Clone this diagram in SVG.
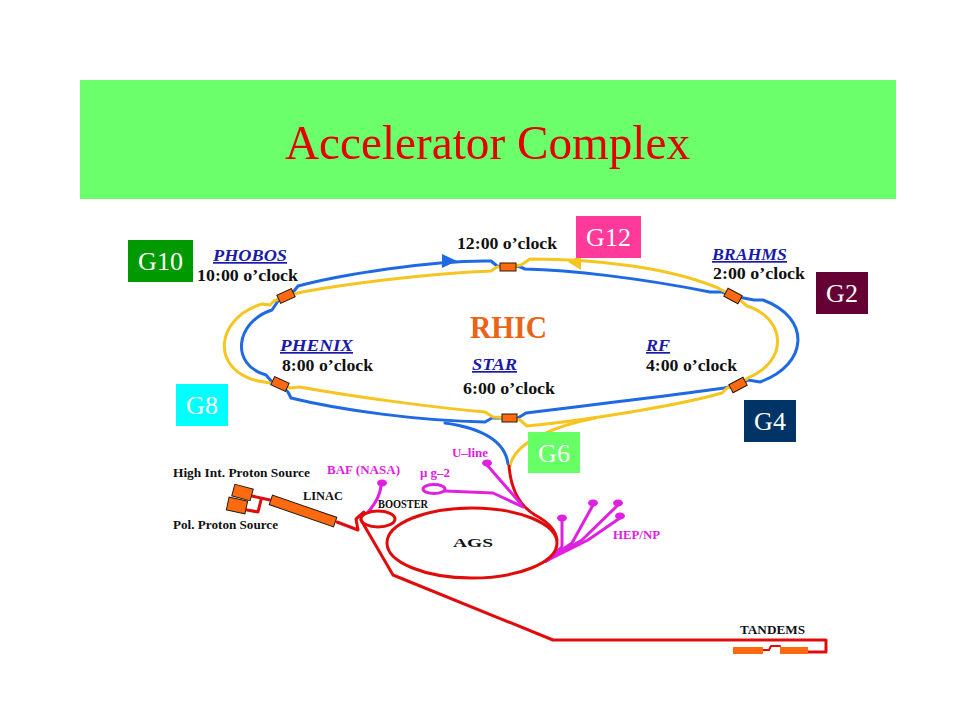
<svg xmlns="http://www.w3.org/2000/svg" width="960" height="720" viewBox="0 0 960 720">
<style>
.bl{fill:none;stroke:#1f6ae2;stroke-width:3;stroke-linejoin:round;stroke-linecap:round}
.ye{fill:none;stroke:#f6c520;stroke-width:3;stroke-linejoin:round;stroke-linecap:round}
.rd{fill:none;stroke:#e00c0c;stroke-width:3;stroke-linejoin:round;stroke-linecap:round}
.mg{fill:none;stroke:#e020e0;stroke-width:3;stroke-linejoin:round;stroke-linecap:round}
.dot{fill:#e020e0}
.box{fill:#ff6a10;stroke:#2a1a10;stroke-width:1}
.clk{font-family:"Liberation Serif",serif;font-weight:bold;font-size:16px;fill:#111}
.exp{font-family:"Liberation Serif",serif;font-weight:bold;font-style:italic;font-size:17px;fill:#1a1aa8;text-decoration:underline}
.lab{font-family:"Liberation Serif",serif;font-weight:bold;font-size:13px;fill:#111}
.mgt{font-family:"Liberation Serif",serif;font-weight:bold;font-size:13px;fill:#e020e0}
.g{font-family:"Liberation Serif",serif;font-size:26px;fill:#fff;text-anchor:middle}
</style>
<rect width="960" height="720" fill="#fff"/>
<g id="title">
<rect x="80" y="80" width="816" height="119" fill="#6bff6b"/>
<text x="285" y="159" font-family="Liberation Serif,serif" font-size="49" fill="#e40000" textLength="405" lengthAdjust="spacingAndGlyphs">Accelerator  Complex</text>
</g>
<g id="connectors">
<g id="blue-ring">
<path class="bl" d="M508 267 L497 266 L491 261 C430 260 340 275 298 286 L294 291 L286 296"/>
<path class="bl" d="M286 296 L278 301 L272 310 C235 322 230 365 266 375 L272 382 L280 384"/>
<path class="bl" d="M280 384 L288 392 L291 398 C340 410 420 421 485 422 L492 418 L509 418"/>
<path class="bl" d="M509 418 L518 418 L526 413 C600 404 690 393 724 388 L738 385"/>
<path class="bl" d="M738 385 L748 380 L760 382 C808 365 812 318 763 300 L754 300 L733 296"/>
<path class="bl" d="M733 296 L722 292 L710 292 C640 278 570 270 525 269 L518 266 L508 267"/>
<polygon points="457,261 442,254 442,268" fill="#1f6ae2"/>
</g>
<g id="yellow-ring">
<path class="ye" d="M508 267 L497 267 L491 271 C420 274 340 285 302 292 L286 296"/>
<path class="ye" d="M286 296 L274 301 L270 305 L262 304 C215 318 210 370 258 381 L270 383 L280 384"/>
<path class="ye" d="M280 384 L290 388 L300 387 C360 398 440 408 485 412 L493 417 L509 418"/>
<path class="ye" d="M509 418 L520 420 L527 426 C590 420 680 405 722 393 L727 388 L738 385"/>
<path class="ye" d="M738 385 L748 378 C790 360 785 318 747 306 L740 300 L733 296"/>
<path class="ye" d="M733 296 L718 288 C670 268 600 259 530 259 L521 265 L508 267"/>
<polygon points="568,262 581,255 581,270" fill="#f6c520"/>
</g>
<path class="bl" d="M445 423 C480 428 505 440 508 464"/>
<path class="ye" d="M595 418 C560 425 515 440 510 466"/>
<path class="rd" d="M509 466 C511 490 520 506 535 515 C548 522 556 530 557 540"/>
<path class="rd" d="M252 496 L270 500"/>
<path class="rd" d="M247 510 L258 512 L261 500"/>
<path class="rd" d="M337 522 L358 530 L356 519 L364 512"/>
<path class="rd" d="M361 520 L393 575 L553 640 L826 640 L826 652 L808 652"/>
<path class="rd" style="stroke-width:2" d="M763 650 L769 650 L771 646 L780 646"/>
<path class="mg" d="M381 486 C380 496 376 503 368 512"/>
<path class="mg" d="M445 491 L493 493 L523 507"/>
<path class="mg" d="M487 465 L521 504"/>
<path class="mg" d="M546 561 L562 547 L562 521"/>
<path class="mg" d="M546 561 L572 543 L593 505"/>
<path class="mg" d="M546 561 L582 540 L618 505"/>
<path class="mg" d="M546 561 L588 540 L620 518"/>
</g>
<g id="crossings">
<rect class="box" x="500" y="263" width="16" height="8"/>
<rect class="box" x="502" y="414" width="15" height="8"/>
<rect class="box" x="-8" y="-4.5" width="16" height="9" transform="translate(286 296) rotate(-25)"/>
<rect class="box" x="-8" y="-4.5" width="16" height="9" transform="translate(280 384) rotate(25)"/>
<rect class="box" x="-8" y="-4.5" width="16" height="9" transform="translate(733 296) rotate(28)"/>
<rect class="box" x="-8" y="-4.5" width="16" height="9" transform="translate(738 385) rotate(-28)"/>
</g>
<g id="ring-labels">
<text class="clk" x="457" y="249" textLength="100" lengthAdjust="spacingAndGlyphs">12:00 o’clock</text>
<text class="exp" x="213" y="261" textLength="74" lengthAdjust="spacingAndGlyphs">PHOBOS</text>
<text class="clk" x="197" y="281" textLength="101" lengthAdjust="spacingAndGlyphs">10:00 o’clock</text>
<text class="exp" x="280" y="351" textLength="73" lengthAdjust="spacingAndGlyphs">PHENIX </text>
<text class="clk" x="282" y="371" textLength="91" lengthAdjust="spacingAndGlyphs">8:00 o’clock</text>
<text class="exp" x="472" y="370" textLength="45" lengthAdjust="spacingAndGlyphs">STAR</text>
<text class="clk" x="463" y="394" textLength="92" lengthAdjust="spacingAndGlyphs">6:00 o’clock</text>
<text class="exp" x="712" y="260" textLength="75" lengthAdjust="spacingAndGlyphs">BRAHMS</text>
<text class="clk" x="713" y="279" textLength="92" lengthAdjust="spacingAndGlyphs">2:00 o’clock</text>
<text class="exp" x="646" y="351" textLength="24" lengthAdjust="spacingAndGlyphs">RF</text>
<text class="clk" x="646" y="371" textLength="91" lengthAdjust="spacingAndGlyphs">4:00 o’clock</text>
<text x="470" y="338" font-family="Liberation Serif,serif" font-weight="bold" font-size="31" fill="#ea6418" textLength="77" lengthAdjust="spacingAndGlyphs">RHIC</text>
</g>
<g id="injector">
<rect class="box" x="-9.5" y="-6" width="19" height="12" transform="translate(242.5 492.5) rotate(15)"/>
<rect class="box" x="-9.5" y="-6.5" width="19" height="13" transform="translate(237 505.5) rotate(12)"/>
<rect class="box" x="-34" y="-5" width="68" height="10" transform="translate(303 511) rotate(19)"/>
<ellipse class="rd" cx="378" cy="519" rx="17" ry="8"/>
<ellipse class="rd" cx="472" cy="543" rx="85" ry="35"/>
<ellipse class="mg" cx="434" cy="489" rx="11" ry="4.5"/>
<ellipse class="dot" cx="382" cy="483" rx="5" ry="3.5"/>
<ellipse class="dot" cx="487" cy="463" rx="5" ry="3.5"/>
<ellipse class="dot" cx="562" cy="518" rx="5" ry="3.5"/>
<ellipse class="dot" cx="593" cy="503" rx="5" ry="3.5"/>
<ellipse class="dot" cx="618" cy="503" rx="5" ry="3.5"/>
<ellipse class="dot" cx="620" cy="516" rx="5" ry="3.5"/>
<rect x="733" y="647" width="30" height="7" fill="#ff6a10"/>
<rect x="780" y="647" width="28" height="7" fill="#ff6a10"/>
<text class="lab" x="173" y="477" textLength="137" lengthAdjust="spacingAndGlyphs">High Int. Proton  Source</text>
<text class="lab" x="173" y="529" textLength="105" lengthAdjust="spacingAndGlyphs">Pol. Proton Source</text>
<text class="lab" x="303" y="500" textLength="40" lengthAdjust="spacingAndGlyphs">LINAC</text>
<text class="lab" x="378" y="508" font-size="11" textLength="50" lengthAdjust="spacingAndGlyphs">BOOSTER</text>
<text class="lab" x="453" y="547" font-size="21" textLength="40" lengthAdjust="spacingAndGlyphs">AGS</text>
<text class="lab" x="740" y="634" font-size="12" textLength="65" lengthAdjust="spacingAndGlyphs">TANDEMS</text>
<text class="mgt" x="327" y="474" textLength="73" lengthAdjust="spacingAndGlyphs">BAF (NASA)</text>
<text class="mgt" x="420" y="477" font-weight="normal" textLength="30" lengthAdjust="spacingAndGlyphs">μ g–2</text>
<text class="mgt" x="452" y="457" textLength="36" lengthAdjust="spacingAndGlyphs">U–line</text>
<text class="mgt" x="613" y="539" textLength="47" lengthAdjust="spacingAndGlyphs">HEP/NP</text>
</g>
<g id="G10"><rect x="128" y="240" width="65" height="42" fill="#009a00"/><text class="g" x="160.5" y="270">G10</text></g>
<g id="G12"><rect x="576" y="216" width="65" height="42" fill="#ff3a9a"/><text class="g" x="608.5" y="246">G12</text></g>
<g id="G2"><rect x="816" y="272" width="52" height="42" fill="#650035"/><text class="g" x="842" y="302">G2</text></g>
<g id="G8"><rect x="176" y="384" width="52" height="42" fill="#00ffff"/><text class="g" x="202" y="414">G8</text></g>
<g id="G4"><rect x="744" y="400" width="52" height="42" fill="#003466"/><text class="g" x="770" y="430">G4</text></g>
<g id="G6"><rect x="528" y="432" width="52" height="41" fill="#66ff66"/><text class="g" x="554" y="462">G6</text></g>
</svg>
